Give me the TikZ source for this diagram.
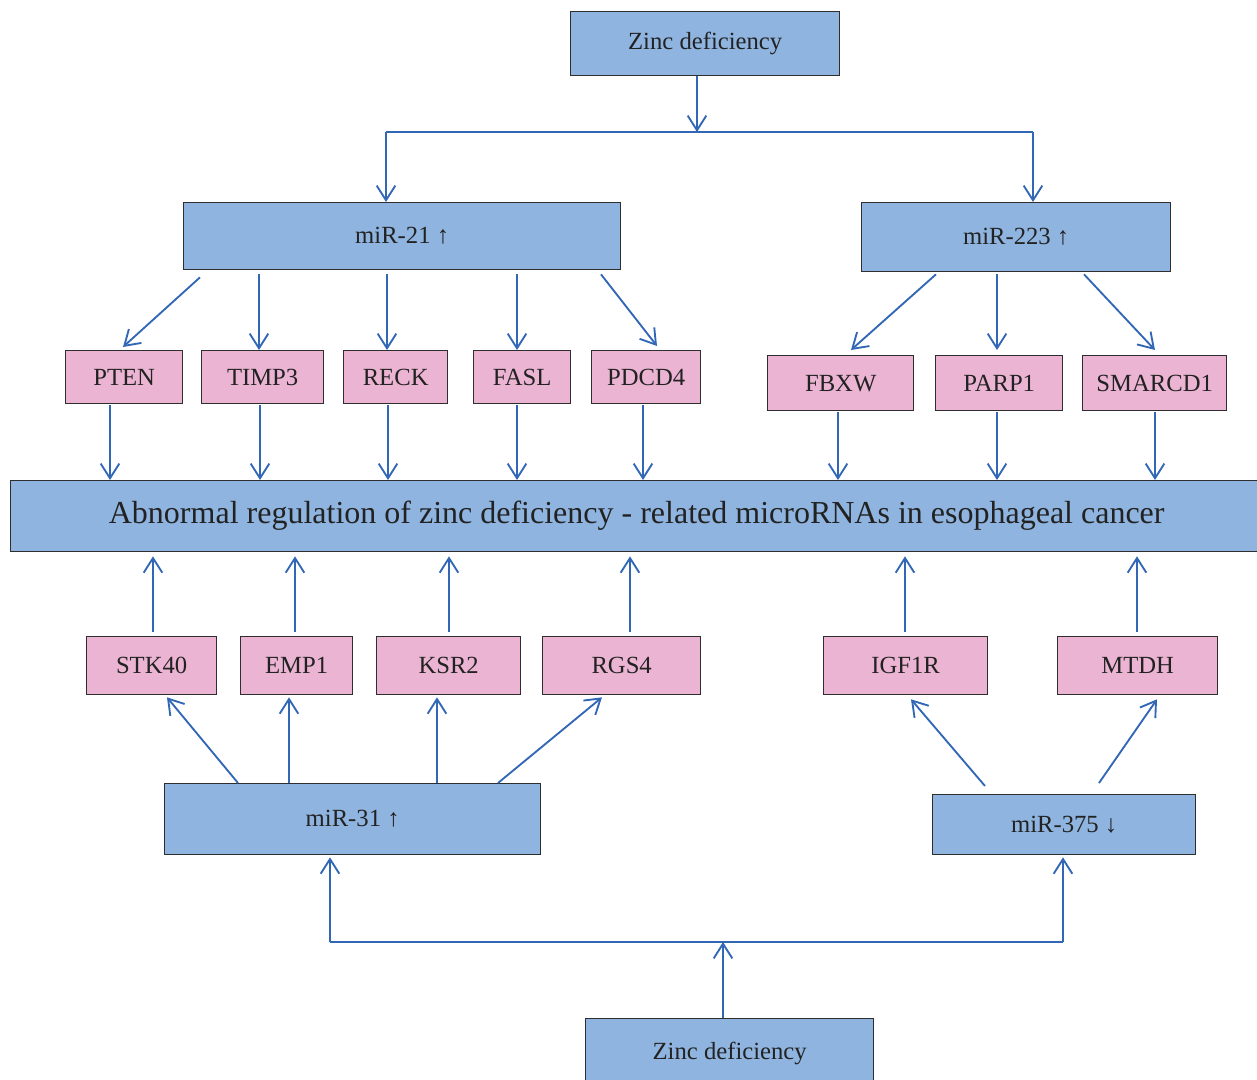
\documentclass[tikz,border=0pt]{standalone}
\usepackage{fontspec}
\setmainfont{Liberation Serif}
\usetikzlibrary{arrows.meta,calc}
\definecolor{boxblue}{HTML}{8EB4DF}
\definecolor{boxpink}{HTML}{ECB4D3}
\definecolor{arrblue}{HTML}{3267B5}
\definecolor{edgegray}{HTML}{2E2E2E}
\definecolor{txt}{HTML}{222222}
\begin{document}
\begin{tikzpicture}[x=0.75pt,y=-0.75pt,
  sz/.style 2 args={minimum width={#1*0.75pt}, minimum height={#2*0.75pt}},
  basebox/.style={draw=edgegray, line width=1pt, inner sep=0pt, anchor=north west, text=txt, font=\fontsize{18.5}{22}\selectfont},
  bluebox/.style={basebox, fill=boxblue},
  pinkbox/.style={basebox, fill=boxpink},
  arr/.style={draw=arrblue, line width=1.4pt, -{Straight Barb[length=11pt,width=14pt,line width=1.4pt]}},
  ln/.style={draw=arrblue, line width=1.4pt}]
\path[use as bounding box] (0,0) rectangle (1257,1080);
\clip (0,0) rectangle (1257,1080);

% nodes
\node[bluebox, sz={269}{64}] (ztop) at (570,11) {Zinc deficiency};
\node[bluebox, sz={437}{67}] (m21) at (183,202) {miR-21 ↑};
\node[bluebox, sz={309}{69}] (m223) at (861,202) {miR-223 ↑};
\node[pinkbox, sz={117}{53}] (pten) at (65,350) {PTEN};
\node[pinkbox, sz={122}{53}] (timp) at (201,350) {TIMP3};
\node[pinkbox, sz={104}{53}] (reck) at (343,350) {RECK};
\node[pinkbox, sz={97}{53}] (fasl) at (473,350) {FASL};
\node[pinkbox, sz={109}{53}] (pdcd) at (591,350) {PDCD4};
\node[pinkbox, sz={146}{55}] (fbxw) at (767,355) {FBXW};
\node[pinkbox, sz={127}{55}] (parp) at (935,355) {PARP1};
\node[pinkbox, sz={144}{55}] (smarc) at (1082,355) {SMARCD1};
\node[bluebox, sz={1252}{71}, font=\fontsize{24}{28}\selectfont] (main) at (10,480) {Abnormal regulation of zinc deficiency - related microRNAs in esophageal cancer};
\node[pinkbox, sz={130}{58}] (stk) at (86,636) {STK40};
\node[pinkbox, sz={112}{58}] (emp) at (240,636) {EMP1};
\node[pinkbox, sz={144}{58}] (ksr) at (376,636) {KSR2};
\node[pinkbox, sz={158}{58}] (rgs) at (542,636) {RGS4};
\node[pinkbox, sz={164}{58}] (igf) at (823,636) {IGF1R};
\node[pinkbox, sz={160}{58}] (mtdh) at (1057,636) {MTDH};
\node[bluebox, sz={376}{71}] (m31) at (164,783) {miR-31 ↑};
\node[bluebox, sz={263}{60}] (m375) at (932,794) {miR-375 ↓};
\node[bluebox, sz={288}{70}] (zbot) at (585,1018) {Zinc deficiency};

% top split
\coordinate (tj) at (697,132);
\coordinate (tl) at (386,132);
\coordinate (tr) at (1033,132);
\draw[arr] ($(ztop.south west)+(127,0)$) -- (tj);
\draw[ln] (tl) -- (tr);
\draw[arr] (tl) -- (tl |- m21.north);
\draw[arr] (tr) -- (tr |- m223.north);

% miR-21 targets
\draw[arr] ($(m21.south west)+(17,7)$) -- ($(pten.north west)+(58,-3)$);
\draw[arr] ($(m21.south west)+(76,4)$) -- ($(timp.north west)+(58,0)$);
\draw[arr] ($(m21.south west)+(204,4)$) -- ($(reck.north west)+(44,0)$);
\draw[arr] ($(m21.south west)+(334,4)$) -- ($(fasl.north west)+(44,0)$);
\draw[arr] ($(m21.south west)+(418,4)$) -- ($(pdcd.north west)+(66,-4)$);
% miR-223 targets
\draw[arr] ($(m223.south west)+(75,2)$) -- ($(fbxw.north west)+(84,-5)$);
\draw[arr] ($(m223.south west)+(136,2)$) -- ($(parp.north west)+(62,-5)$);
\draw[arr] ($(m223.south west)+(223,2)$) -- ($(smarc.north west)+(73,-5)$);

% genes down to main
\draw[arr] ($(pten.south west)+(45,1)$) -- ($(main.north west)+(100,0)$);
\draw[arr] ($(timp.south west)+(59,1)$) -- ($(main.north west)+(250,0)$);
\draw[arr] ($(reck.south west)+(45,1)$) -- ($(main.north west)+(378,0)$);
\draw[arr] ($(fasl.south west)+(44,1)$) -- ($(main.north west)+(507,0)$);
\draw[arr] ($(pdcd.south west)+(52,1)$) -- ($(main.north west)+(633,0)$);
\draw[arr] ($(fbxw.south west)+(71,1)$) -- ($(main.north west)+(828,0)$);
\draw[arr] ($(parp.south west)+(62,1)$) -- ($(main.north west)+(987,0)$);
\draw[arr] ($(smarc.south west)+(73,1)$) -- ($(main.north west)+(1145,0)$);

% genes up to main
\draw[arr] ($(stk.north west)+(67,-4)$) -- ($(main.south west)+(143,4)$);
\draw[arr] ($(emp.north west)+(55,-4)$) -- ($(main.south west)+(285,4)$);
\draw[arr] ($(ksr.north west)+(73,-4)$) -- ($(main.south west)+(439,4)$);
\draw[arr] ($(rgs.north west)+(88,-4)$) -- ($(main.south west)+(620,4)$);
\draw[arr] ($(igf.north west)+(82,-4)$) -- ($(main.south west)+(895,4)$);
\draw[arr] ($(mtdh.north west)+(80,-4)$) -- ($(main.south west)+(1127,4)$);

% miR-31 targets
\draw[arr] ($(m31.north west)+(74,0)$) -- ($(stk.south west)+(81,2)$);
\draw[arr] ($(m31.north west)+(125,0)$) -- ($(emp.south west)+(49,2)$);
\draw[arr] ($(m31.north west)+(273,0)$) -- ($(ksr.south west)+(61,2)$);
\draw[arr] ($(m31.north west)+(334,0)$) -- ($(rgs.south west)+(60,2)$);
% miR-375 targets
\draw[arr] ($(m375.north west)+(53,-8)$) -- ($(igf.south west)+(88,4)$);
\draw[arr] ($(m375.north west)+(167,-11)$) -- ($(mtdh.south west)+(100,4)$);

% bottom split
\coordinate (bj) at (723,942);
\coordinate (bl) at (330,942);
\coordinate (br) at (1063,942);
\draw[ln] (bl) -- (br);
\draw[arr] ($(zbot.north west)+(138,0)$) -- (bj);
\draw[arr] (bl) -- ($(m31.south west)+(166,2)$);
\draw[arr] (br) -- ($(m375.south west)+(131,2)$);
\end{tikzpicture}
\end{document}
